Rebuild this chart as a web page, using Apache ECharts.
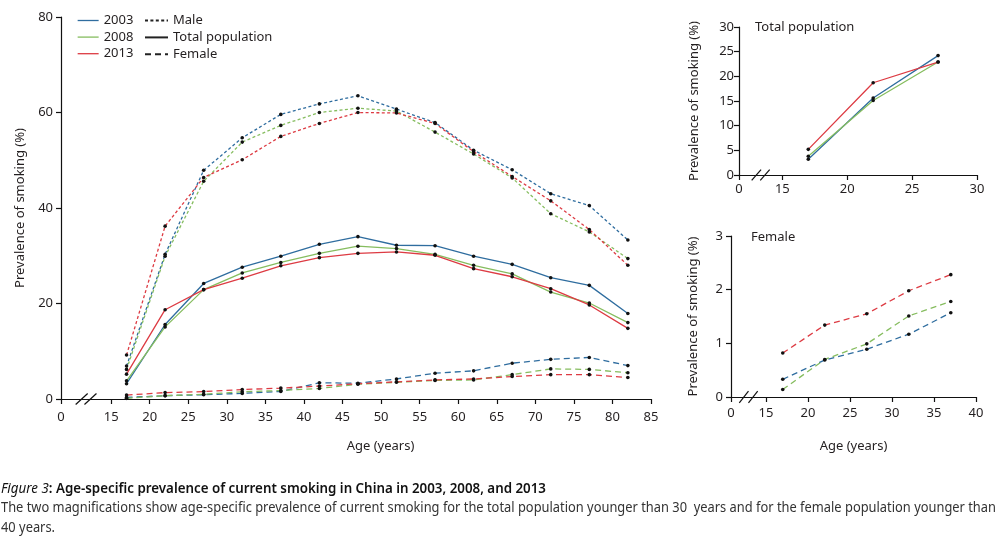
<!DOCTYPE html>
<html><head><meta charset="utf-8">
<script src="https://cdn.jsdelivr.net/npm/echarts@6/dist/echarts.min.js"></script>
<style>html,body{margin:0;padding:0;background:#fff}#c{width:1000px;height:537px}</style>
</head><body><div id="c"></div>
<script>
// ---------- data ----------
const ages = [17, 22, 27, 32, 37, 42, 47, 52, 57, 62, 67, 72, 77, 82];
const years = ['2003', '2008', '2013'];
const sexes = ['Male', 'Total population', 'Female'];

const male2003 = [6.9, 30.3, 47.9, 54.7, 59.6, 61.8, 63.5, 60.7, 57.9, 52.1, 48.0, 43.0, 40.5, 33.3];
const male2008 = [6.2, 29.9, 45.6, 53.8, 57.3, 60.0, 60.9, 60.3, 55.9, 51.3, 46.3, 38.8, 35.0, 29.4];
const male2013 = [9.2, 36.2, 46.4, 50.1, 55.0, 57.7, 60.0, 59.9, 57.7, 51.8, 46.6, 41.5, 35.5, 28.0];

const total2003 = [3.2, 15.6, 24.2, 27.6, 29.9, 32.4, 34.0, 32.2, 32.1, 29.9, 28.2, 25.4, 23.8, 17.9];
const total2008 = [3.8, 15.1, 22.9, 26.4, 28.6, 30.5, 32.0, 31.5, 30.3, 28.0, 26.2, 22.4, 20.1, 16.0];
const total2013 = [5.2, 18.7, 22.9, 25.3, 27.9, 29.6, 30.5, 30.8, 30.1, 27.3, 25.6, 23.1, 19.7, 14.8];

const female2003 = [0.33, 0.69, 0.89, 1.17, 1.57, 3.4, 3.3, 4.2, 5.4, 5.9, 7.5, 8.3, 8.7, 7.0];
const female2008 = [0.14, 0.70, 0.99, 1.51, 1.78, 2.2, 3.1, 3.5, 3.9, 4.0, 5.1, 6.3, 6.2, 5.5];
const female2013 = [0.82, 1.34, 1.55, 1.98, 2.28, 2.7, 3.2, 3.6, 4.0, 4.2, 4.7, 5.1, 5.1, 4.5];

// tick labels (after the axis break; the "0" sits at the axis origin)
const mainXTicks = [15, 20, 25, 30, 35, 40, 45, 50, 55, 60, 65, 70, 75, 80, 85];
const totalXTicks = [15, 20, 25, 30];
const femaleXTicks = [15, 20, 25, 30, 35, 40];
const insetTotalPoints = 3;   // ages younger than 30
const insetFemalePoints = 5;  // ages younger than 40

const captionTitleA = 'Figure 3';
const captionTitleB = ': Age-specific prevalence of current smoking in China in 2003, 2008, and 2013';
const captionLine2 = 'The two magnifications show age-specific prevalence of current smoking for the total population younger than 30  years and for the female population younger than';
const captionLine3 = '40 years.';

// ---------- style ----------
const FF = "'Noto Sans', 'Open Sans', sans-serif";
const TXT = '#231f20';
const colors = ['#2f6d9f', '#86bd5f', '#dd3b43'];
const dash = { Male: [3, 2.4], 'Total population': 'solid', Female: [6, 4] };

// axis break origins (value placed at the origin, labelled "0")
const breakMin = [8.5, 11.66, 10.84];

const chart = echarts.init(document.getElementById('c'), null, { renderer: 'canvas' });

function xAxis(gi, min, max, ticks, margin, name, nameGap, namePad) {
  const vals = [min].concat(ticks);
  return {
    type: 'value', gridIndex: gi, min: min, max: max,
    axisLine: { show: true, onZero: false, lineStyle: { color: '#111', width: 1.2 } },
    axisTick: { show: true, inside: false, length: 5, customValues: vals, lineStyle: { color: '#111', width: 1.2 } },
    axisLabel: { customValues: vals, margin: margin, fontSize: 13, fontFamily: FF, color: TXT,
      formatter: v => (v < 15 ? '0' : String(v)) },
    splitLine: { show: false },
    name: name, nameLocation: 'middle', nameGap: nameGap,
    nameTextStyle: { fontSize: 13, fontFamily: FF, color: TXT, padding: namePad || 0 }
  };
}
function yAxis(gi, max, interval, margin, nameGap) {
  return {
    type: 'value', gridIndex: gi, min: 0, max: max, interval: interval,
    axisLine: { show: true, lineStyle: { color: '#111', width: 1.2 } },
    axisTick: { show: true, inside: false, length: 5, lineStyle: { color: '#111', width: 1.2 } },
    axisLabel: { margin: margin, fontSize: 13, fontFamily: FF, color: TXT },
    splitLine: { show: false },
    name: 'Prevalence of smoking (%)', nameLocation: 'middle', nameGap: nameGap,
    nameTextStyle: { fontSize: 13, fontFamily: FF, color: TXT }
  };
}

function lineSeries(name, axisIdx, values, n, color, dashType) {
  const cnt = n || values.length;
  return {
    type: 'line', name: name, xAxisIndex: axisIdx, yAxisIndex: axisIdx,
    data: ages.slice(0, cnt).map((a, i) => [a, values[i]]),
    symbol: 'circle', symbolSize: 3.6, showSymbol: true,
    itemStyle: { color: '#111' },
    lineStyle: { color: color, width: 1.3, type: dashType },
    emphasis: { disabled: true }, silent: true, animation: false, z: 3
  };
}

const maleSets = [male2003, male2008, male2013];
const totalSets = [total2003, total2008, total2013];
const femaleSets = [female2003, female2008, female2013];

const series = [];
years.forEach((y, i) => {
  series.push(lineSeries(y, 0, maleSets[i], 0, colors[i], dash.Male));
  series.push(lineSeries(y, 0, totalSets[i], 0, colors[i], dash['Total population']));
  series.push(lineSeries(y, 0, femaleSets[i], 0, colors[i], dash.Female));
  series.push(lineSeries(y, 1, totalSets[i], insetTotalPoints, colors[i], dash['Total population']));
  series.push(lineSeries(y, 2, femaleSets[i], insetFemalePoints, colors[i], dash.Female));
});
sexes.forEach(s => {
  series.push({ type: 'line', name: s, xAxisIndex: 0, yAxisIndex: 0, data: [],
    itemStyle: { color: '#222' }, lineStyle: { color: '#222', width: 1.3, type: dash[s] } });
});

const legendBase = {
  orient: 'vertical', top: 14, padding: 0, itemHeight: 14, itemGap: 3.6, selectedMode: false,
  itemStyle: { opacity: 0 },
  textStyle: { fontSize: 13, fontFamily: FF, color: TXT }
};

const option = {
  backgroundColor: '#fff',
  animation: false,
  grid: [
    { left: 61, top: 17, width: 590, height: 382 },
    { left: 739, top: 27, width: 238, height: 148 },
    { left: 731, top: 236, width: 245, height: 161 }
  ],
  xAxis: [
    xAxis(0, breakMin[0], 85, mainXTicks, 12, 'Age (years)', 41, [0, 0, 0, 49]),
    xAxis(1, breakMin[1], 30, totalXTicks, 8, '', 0),
    xAxis(2, breakMin[2], 40, femaleXTicks, 10, 'Age (years)', 43)
  ],
  yAxis: [
    yAxis(0, 80, 20, 8, 32),
    yAxis(1, 30, 5, 5, 38),
    yAxis(2, 3, 1, 8, 31)
  ],
  legend: [
    Object.assign({}, legendBase, { left: 77, itemWidth: 21,
      data: years.map((y, i) => ({ name: y, lineStyle: { type: 'solid', color: colors[i], width: 1.3 } })) }),
    Object.assign({}, legendBase, { left: 144, itemWidth: 23, data: sexes.slice() })
  ],
  series: series
};
chart.setOption(option);

// ---------- decorations: break marks, inset titles, caption ----------
function breakMark(gi, halfDx, halfDy, off) {
  const xmid = (breakMin[gi] + 15) / 2;
  const p = chart.convertToPixel({ gridIndex: gi }, [xmid, 0]);
  return [-1, 1].map(s => ({
    type: 'line', silent: true, z: 10,
    shape: { x1: p[0] + s * off - halfDx, y1: p[1] + halfDy, x2: p[0] + s * off + halfDx, y2: p[1] - halfDy },
    style: { stroke: '#111', lineWidth: 1.2 }
  }));
}

function measure(text, font) {
  const ctx = document.createElement('canvas').getContext('2d');
  ctx.font = font;
  return ctx.measureText(text).width;
}
const capSize = 14;
const fontA = 'italic ' + capSize + 'px ' + FF;
const fontB = '600 ' + capSize + 'px ' + FF;
const fontC = capSize + 'px ' + FF;
const w1 = measure(captionTitleA, fontA) + measure(captionTitleB, fontB);
const s1 = 545 / w1;
const s2 = 995 / measure(captionLine2, fontC);

const graphics = []
  .concat(breakMark(0, 6, 5.5, 4.4))
  .concat(breakMark(1, 4.7, 5.4, 4.3))
  .concat(breakMark(2, 4.6, 5.8, 4.6))
  .concat([
    { type: 'text', left: 755, top: 21, silent: true,
      style: { text: 'Total population', fontSize: 13, fontFamily: FF, fill: TXT } },
    { type: 'text', left: 751, top: 231, silent: true,
      style: { text: 'Female', fontSize: 13, fontFamily: FF, fill: TXT } },
    { type: 'text', x: 1, y: 489, scaleX: s1, silent: true,
      style: { text: '{a|' + captionTitleA + '}{b|' + captionTitleB + '}', verticalAlign: 'middle',
        rich: { a: { fontStyle: 'italic', fontSize: capSize, fontFamily: FF, fill: '#111' },
                b: { fontWeight: 600, fontSize: capSize, fontFamily: FF, fill: '#111' } } } },
    { type: 'text', x: 1, y: 508, scaleX: s2, silent: true,
      style: { text: captionLine2, fontSize: capSize, fontFamily: FF, fill: '#333', verticalAlign: 'middle' } },
    { type: 'text', x: 1, y: 528, scaleX: s2, silent: true,
      style: { text: captionLine3, fontSize: capSize, fontFamily: FF, fill: '#333', verticalAlign: 'middle' } }
  ]);
chart.setOption({ graphic: graphics });
</script>
</body></html>
